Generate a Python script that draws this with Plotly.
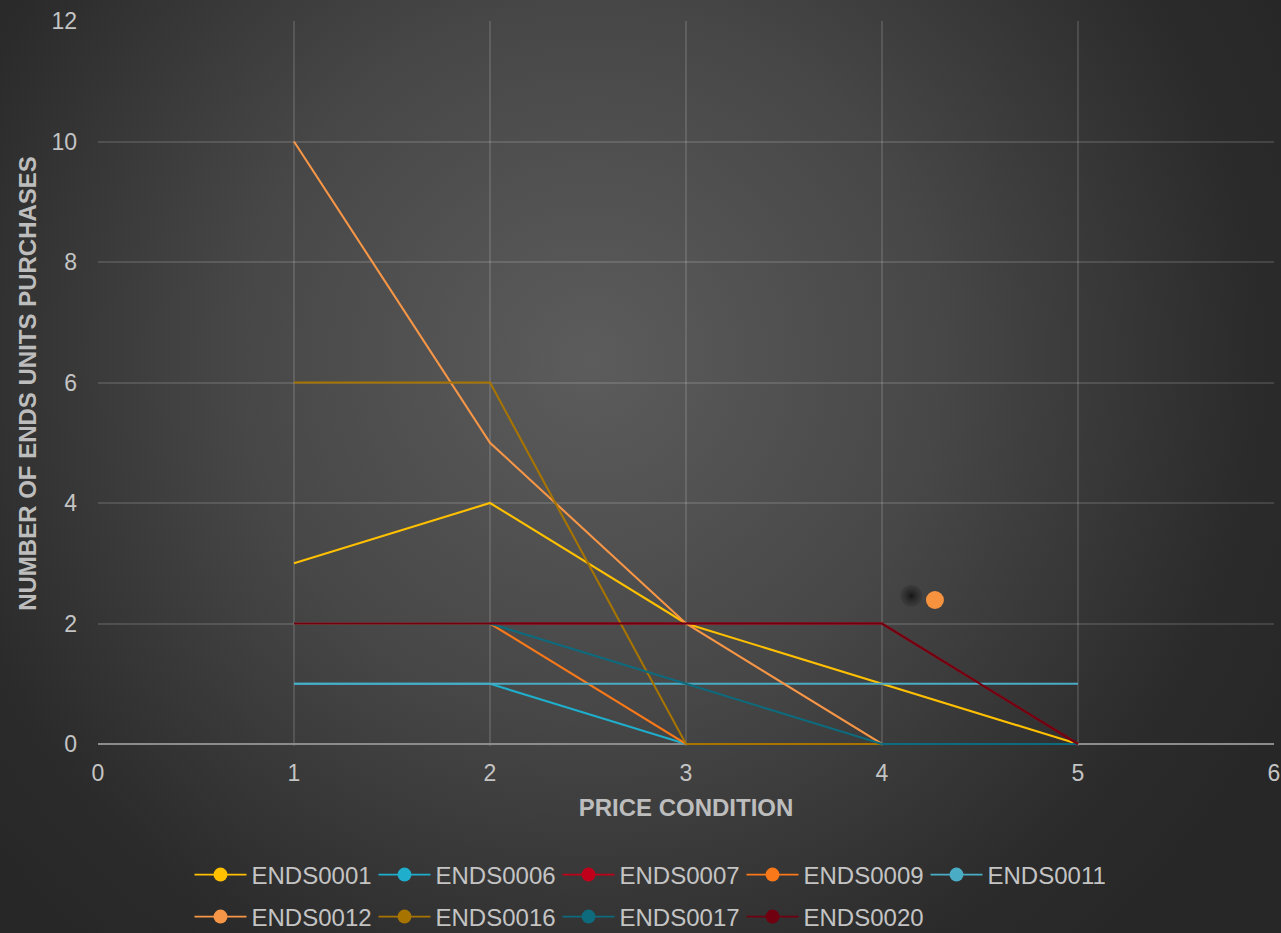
import base64
import plotly.graph_objects as go

# ---------------- data ----------------
price_condition = [1, 2, 3, 4, 5]
series_names = ["ENDS0001", "ENDS0006", "ENDS0007", "ENDS0009", "ENDS0011",
                "ENDS0012", "ENDS0016", "ENDS0017", "ENDS0020"]
ends0001 = [3, 4, 2, 1, 0]
ends0006 = [1, 1, 0, 0, 0]
ends0007 = [2, 2, 2, 2, 0]
ends0009 = [2, 2, 0, 0, 0]
ends0011 = [1, 1, 1, 1, 1]
ends0012 = [10, 5, 2, 0, 0]
ends0016 = [6, 6, 0, 0, 0]
ends0017 = [2, 2, 1, 0, 0]
ends0020 = [2, 2, 2, 2, 0]
series_values = [ends0001, ends0006, ends0007, ends0009, ends0011,
                 ends0012, ends0016, ends0017, ends0020]
series_colors = ["#FFC000", "#1FAECB", "#C0001A", "#F9781A", "#4BACC6",
                 "#F79646", "#A77400", "#0E6A7D", "#700010"]

# stray marker visible in the picture (and its shadow)
stray_x = [4.27]
stray_y = [2.39]
stray_shadow_x = [4.15]
stray_shadow_y = [2.46]

x_ticks = [0, 1, 2, 3, 4, 5, 6]
y_ticks = [0, 2, 4, 6, 8, 10, 12]

# ---------------- figure ----------------
W, H = 1281, 933
PAD = 2                      # extra px under y=0 so lines on the floor are not clipped
ML, MR, MT, MB = 98, 7, 21, 189 - PAD
PW, PH = W - ML - MR, H - MT - MB
Y_MAX = 12
Y_MIN = -PAD * Y_MAX / (PH - PAD)

FONT = "Liberation Sans, Arial, Helvetica, sans-serif"
TXT = "#C4C4C4"

fig = go.Figure()

for i, (name, vals, col) in enumerate(zip(series_names, series_values, series_colors)):
    lg = "legend" if i < 5 else "legend2"
    fig.add_trace(go.Scatter(x=price_condition, y=vals, mode="lines", name=name,
                             line=dict(color=col, width=2.1), cliponaxis=False,
                             legendgroup=name, showlegend=False, legend=lg))
    # legend-only entry (line + marker)
    fig.add_trace(go.Scatter(x=[None], y=[None], mode="lines+markers", name=name,
                             line=dict(color=col, width=1.9),
                             marker=dict(color=col, size=14),
                             legendgroup=name, showlegend=True, legend=lg))

fig.add_trace(go.Scatter(x=stray_shadow_x, y=stray_shadow_y, mode="markers",
                         marker=dict(color="rgba(40,40,40,0.25)", size=22,
                                     gradient=dict(type="radial", color="rgba(22,22,22,1)"),
                                     line=dict(width=0)),
                         showlegend=False, hoverinfo="skip"))
fig.add_trace(go.Scatter(x=stray_x, y=stray_y, mode="markers",
                         marker=dict(color="#F7933F", size=18, line=dict(width=0)),
                         showlegend=False, hoverinfo="skip"))

svg = f"""<svg xmlns='http://www.w3.org/2000/svg' width='{W}' height='{H}' viewBox='0 0 {W} {H}' preserveAspectRatio='none'>
<defs><radialGradient id='g' gradientUnits='userSpaceOnUse' cx='590' cy='360' r='780'>
<stop offset='0' stop-color='#5c5c5c'/><stop offset='0.45' stop-color='#474747'/>
<stop offset='0.85' stop-color='#2b2b2b'/><stop offset='1' stop-color='#272727'/>
</radialGradient></defs><rect width='{W}' height='{H}' fill='url(#g)'/></svg>"""
src = "data:image/svg+xml;base64," + base64.b64encode(svg.encode()).decode()

fig.add_layout_image(dict(source=src, xref="paper", yref="paper",
                          x=-ML / PW, y=1 + MT / PH, sizex=W / PW, sizey=H / PH,
                          xanchor="left", yanchor="top", sizing="stretch", layer="below"))

leg_common = dict(orientation="h", xanchor="left", yanchor="middle",
                  xref="container", yref="container",
                  font=dict(family=FONT, size=24, color=TXT),
                  bgcolor="rgba(0,0,0,0)", itemwidth=52,
                  entrywidth=117, entrywidthmode="pixels",
                  itemclick="toggle", tracegroupgap=0)

fig.update_layout(
    width=W, height=H,
    margin=dict(l=ML, r=MR, t=MT, b=MB, pad=0, autoexpand=False),
    paper_bgcolor="#2a2a2a",
    plot_bgcolor="rgba(0,0,0,0)",
    font=dict(family=FONT, color=TXT),
    showlegend=True,
    legend=dict(x=189.5 / W, y=1 - 875 / H, **leg_common),
    legend2=dict(x=189.5 / W, y=1 - 917 / H, **leg_common),
    xaxis=dict(range=[0, 6], tickvals=x_ticks, ticktext=[str(v) for v in x_ticks],
               showgrid=True, gridcolor="rgba(255,255,255,0.13)", gridwidth=1.5,
               zeroline=False, showline=False,
               layer="below traces", automargin=False,
               ticks="", tickfont=dict(family=FONT, size=23, color=TXT),
               ticklabelstandoff=11,
               title=dict(text="<b>PRICE CONDITION</b>", standoff=14,
                          font=dict(family=FONT, size=24, color="#BDBDBD"))),
    yaxis=dict(range=[Y_MIN, Y_MAX], tickvals=y_ticks, ticktext=[str(v) for v in y_ticks],
               showgrid=True, gridcolor="rgba(255,255,255,0.13)", gridwidth=1.5,
               zeroline=True, zerolinecolor="#8C8C8C", zerolinewidth=1.6,
               showline=False, layer="below traces", automargin=False,
               ticks="", tickfont=dict(family=FONT, size=23, color=TXT),
               ticklabelstandoff=20,
               title=dict(text="<b>NUMBER OF ENDS UNITS PURCHASES</b>", standoff=8,
                          font=dict(family=FONT, size=24, color="#BDBDBD"))),
)

fig.write_html("out.html", config={"displayModeBar": False},
               post_script="document.body.style.margin='0';")
